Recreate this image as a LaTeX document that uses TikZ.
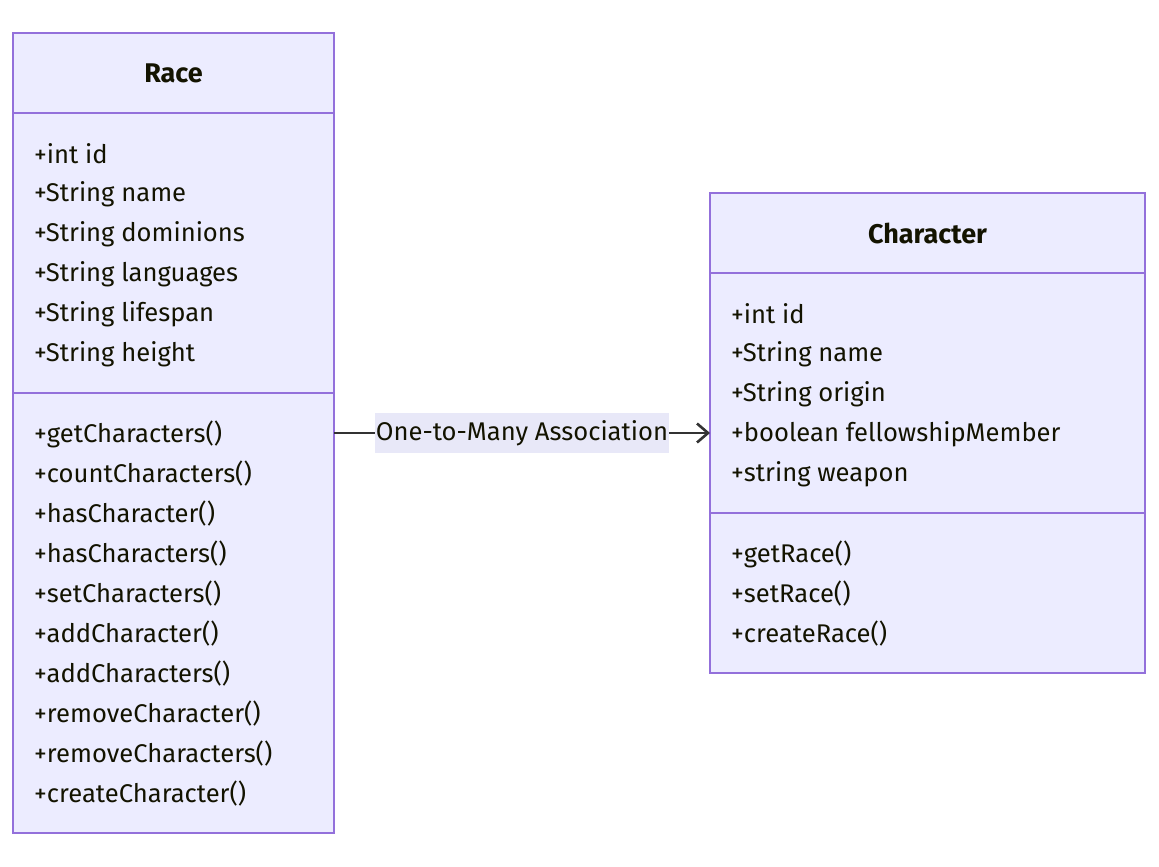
\documentclass[tikz,border=0pt]{standalone}
\usepackage{fontspec}
\setmainfont{Fira Sans}
\usetikzlibrary{arrows.meta}
\definecolor{classfill}{HTML}{ECECFF}
\definecolor{classline}{HTML}{9370DB}
\definecolor{classtext}{HTML}{131300}
\definecolor{edgeline}{HTML}{333333}
\definecolor{labelfill}{HTML}{E8E8F8}
\tikzset{
    classbox/.style={draw=classline,fill=classfill,line width=1.2pt},
    classtitle/.style={font=\fontsize{27}{31}\selectfont\bfseries,text=classtext},
    member/.style={anchor=west,inner sep=0pt,font=\fontsize{25.6}{30}\selectfont,text=classtext},
    assoc/.style={draw=edgeline,line width=2pt,-{Straight Barb[length=11pt,width=19pt,line width=2.6pt]}},
    assoclabel/.style={fill=labelfill,inner xsep=1pt,minimum height=40pt,font=\fontsize{25.6}{30}\selectfont,text=classtext},
}

\begin{document}
\begin{tikzpicture}[x=1pt,y=-1pt]
\useasboundingbox (0,0) rectangle (1159,867);
% Race class
\draw[classbox] (13,33) rectangle (334,833);
\draw[classline,line width=1.2pt] (13,113) -- (334,113) (13,393) -- (334,393);
\node[classtitle] (race) at (173.5,73) {Race};
\foreach \txt [count=\i] in {+int id,+String name,+String dominions,+String languages,+String lifespan,+String height}
    \node[member] (racea\i) at (34,114+40*\i) {\txt};
\foreach \txt [count=\i] in {+getCharacters(),+countCharacters(),+hasCharacter(),+hasCharacters(),+setCharacters(),+addCharacter(),+addCharacters(),+removeCharacter(),+removeCharacters(),+createCharacter()}
    \node[member] (racem\i) at (34,394+40*\i) {\txt};
% Character class
\draw[classbox] (710,193) rectangle (1145,673);
\draw[classline,line width=1.2pt] (710,273) -- (1145,273) (710,513) -- (1145,513);
\node[classtitle] (character) at (927.5,233) {Character};
\foreach \txt [count=\i] in {+int id,+String name,+String origin,+boolean fellowshipMember,+string weapon}
    \node[member] (chara\i) at (731,274+40*\i) {\txt};
\foreach \txt [count=\i] in {+getRace(),+setRace(),+createRace()}
    \node[member] (charm\i) at (731,514+40*\i) {\txt};
% association
\coordinate (racee) at (334,433);
\coordinate (charw) at (710,433);
\draw[assoc] (racee) -- node[assoclabel] (assoc) {One-to-Many Association} (charw);
\end{tikzpicture}
\end{document}
